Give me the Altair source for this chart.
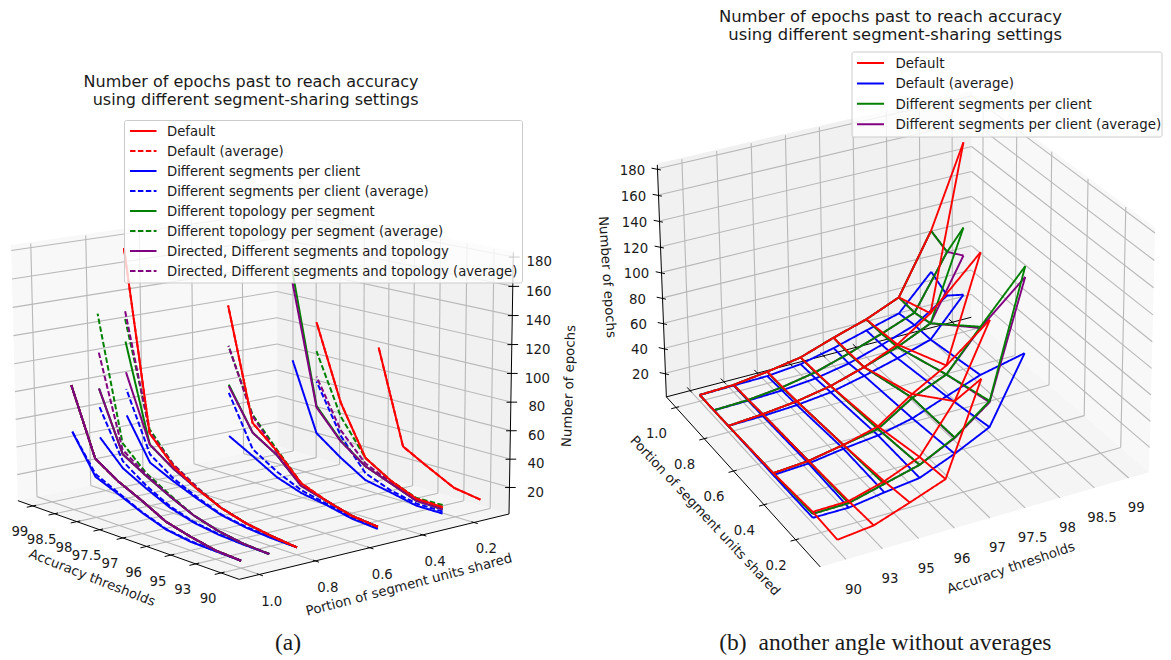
import numpy as np
import pandas as pd
import altair as alt

ACC = ["90", "93", "95", "96", "97", "97.5", "98", "98.5", "99"]
PORTION_TICKS = [1.0, 0.8, 0.6, 0.4, 0.2]
EPOCH_TICKS = [20, 40, 60, 80, 100, 120, 140, 160, 180]

default = {
    1.0: [6, 7, 10.5, 15, 24, 32, 43, 90],
    0.8: [6, 8, 11, 16, 24, 35, 53, 180],
    0.5: [7, 9, 14, 21, 39, 54, 134],
    0.25: [10, 10.5, 18, 29, 64, 118],
    0.1: [9, 12, 21.5, 31.5, 99],
}
default_avg = {
    1.0: [6, 7, 10.5, 15, 24, 32, 43, 90],
    0.8: [6, 8, 11, 16, 24, 35, 53, 180],
    0.5: [7, 9, 14, 21, 39, 54, 134],
    0.25: [10, 10.5, 18, 29, 64, 118],
    0.1: [9, 12, 21.5, 31.5, 99],
}
segments = {
    1.0: [6, 6.5, 7, 9.6, 15.6, 23, 30, 57],
    0.9: [6, 6.5, 7.5, 10, 15, 23, 32, 49],
    0.8: [6, 6.5, 8, 11, 17, 24, 32, 61],
    0.5: [5.5, 7, 11, 14, 20, 30, 39.5],
    0.25: [5.5, 5.5, 9.5, 13, 24, 37, 86],
}
segments_avg = {
    1.0: [6, 6.5, 7.5, 10, 16, 24, 32, 57],
    0.9: [6, 6.5, 8, 10.5, 16, 25, 37, 71],
    0.8: [6, 7, 8.5, 11.5, 18, 26, 38, 80],
    0.5: [6, 8, 12, 16, 24, 35, 71],
    0.25: [7, 7, 11, 18, 40, 75],
}
topology = {
    1.0: [6, 7, 10.5, 15, 24, 32, 43, 90],
    0.9: [6, 7, 10, 15, 23, 32, 42, 84],
    0.8: [6, 8, 11, 16, 24, 33, 45, 114],
    0.5: [7, 9, 14, 19, 36, 47, 77],
    0.25: [8.5, 9, 16, 23, 36.5, 57, 151],
}
topology_avg = {
    1.0: [6, 7, 10.5, 15, 24, 32, 43, 90],
    0.9: [6, 7, 10, 15, 24, 34, 50, 137],
    0.8: [6, 8, 11, 16, 25, 36, 56, 130],
    0.5: [7, 9, 14, 21, 40, 60, 105],
    0.25: [11.5, 11, 18, 29, 54, 97],
}
directed = {
    1.0: [6, 7, 10.5, 15, 24, 32, 43, 90],
    0.9: [6, 7, 10, 15, 23, 32, 42, 84],
    0.8: [6, 8, 11, 16, 24, 33, 45, 92],
    0.5: [7, 9, 14, 19, 36, 47, 76],
    0.25: [8.5, 9, 16, 23, 36, 56, 143],
}
directed_avg = {
    1.0: [6, 7, 10.5, 15, 24, 32, 43, 90],
    0.9: [6, 7, 10, 15, 23, 33, 45, 111],
    0.8: [6, 8, 11, 16, 25, 36, 54, 136],
    0.5: [7, 9, 14, 20, 38, 59, 105],
    0.25: [9, 10, 17, 25, 44, 78.5],
}

RED, BLUE, GREEN, PURPLE = "#ff0000", "#0000ff", "#008000", "#800080"
LEGEND_A = [
    ("Default", RED, "solid"), ("Default (average)", RED, "dash"),
    ("Different segments per client", BLUE, "solid"),
    ("Different segments per client (average)", BLUE, "dash"),
    ("Different topology per segment", GREEN, "solid"),
    ("Different topology per segment (average)", GREEN, "dash"),
    ("Directed, Different segments and topology", PURPLE, "solid"),
    ("Directed, Different segments and topology (average)", PURPLE, "dash"),
]
LEGEND_B = [
    ("Default", RED), ("Default (average)", BLUE),
    ("Different segments per client", GREEN),
    ("Different segments per client (average)", PURPLE),
]
TITLE_1 = "Number of epochs past to reach accuracy"
TITLE_2 = "using different segment-sharing settings"


def fit_camera(box):
    A = []
    for (i, p, z), (u, v) in box:
        X = [i / 9, p, z / 180, 1]
        u, v = u / 1000, v / 1000
        A.append(X + [0, 0, 0, 0] + [-u * c for c in X])
        A.append([0, 0, 0, 0] + X + [-v * c for c in X])
    return np.linalg.svd(np.array(A))[2][-1].reshape(3, 4)


def make_proj(box):
    P = fit_camera(box)

    def proj(i, p, z):
        q = P @ np.array([i / 9, p, z / 180, 1.0])
        return float(q[0] / q[2] * 1000), float(q[1] / q[2] * 1000)
    return proj


# box limits and where the box and its ticks fall on the page (camera calibration)
A_I, A_P = (-0.7, 8.7), (1.07, 0.06)
B_I, B_P = (-0.7, 8.6), (1.07, 0.05)
ZB = 1
cal_a = [
    ((8.7, 1.07, 1), (17, 503)), ((-0.7, 1.07, 1), (241, 579)),
    ((-0.7, 0.06, 1), (511, 513)), ((8.7, 0.06, 1), (280, 447)),
    ((-0.7, 0.06, 180), (515, 259)), ((8.7, 0.06, 180), (280, 214)),
    ((8.7, 1.07, 180), (14, 248)),
]
cal_a += 5 * [
    ((6, 1, 43), (94, 458)), ((6, 0.5, 134), (227, 306)), ((6, 0.25, 151), (290, 268)),
    ((4, 0.1, 99), (376, 347.7)), ((7, 1, 90), (70, 383)), ((7, 0.8, 180), (123, 250)),
    ((0, 1, 6), (243, 562)), ((0, 0.1, 9), (478, 500)),
]
for i, (u, v) in enumerate([(223, 572), (198, 563), (173, 555), (148, 546), (123, 539),
                            (100, 531), (77, 522), (52, 514), (31, 506)]):
    cal_a.append(((i, 1.07, 1), (u, v)))
for p, (u, v) in zip(PORTION_TICKS, [(259.5, 573), (313.5, 560), (367.5, 548), (420.5, 536), (470.5, 522)]):
    cal_a.append(((-0.7, p, 1), (u, v)))
for z, v in zip(EPOCH_TICKS, [486, 457, 429, 401, 373, 345, 316, 287, 259]):
    cal_a.append(((-0.7, 0.06, z), (511 + (513 - v) / 254 * 4, v)))
for z, v in zip(EPOCH_TICKS[:6], [422, 397, 371, 345, 318, 292]):
    cal_a.append(((8.7, 0.06, z), (280, v)))
for z, v in zip([120, 140, 160, 180], [337, 308, 280, 250]):
    cal_a.append(((8.7, 1.07, z), (14.5, v)))
proj_a = make_proj(cal_a)

cal_b = [
    ((-0.7, 1.07, 1), (667, 398)), ((-0.7, 0.05, 1), (824, 568)),
    ((8.6, 0.05, 1), (1147, 473)), ((8.6, 1.07, 1), (972, 319.5)),
    ((-0.7, 1.07, 184), (657, 163)), ((8.6, 1.07, 180), (972, 97)),
    ((8.6, 0.05, 180), (1158, 237)),
]
cal_b += 4 * [
    ((0, 1, 6), (697, 395)), ((0, 0.8, 6), (728, 427)), ((0, 0.5, 7), (773, 475)),
    ((0, 0.25, 8.5), (812, 515)), ((0, 0.1, 9), (835, 539)),
    ((7, 1, 90), (930, 229)), ((7, 0.8, 180), (964, 143)), ((6, 0.5, 134), (980, 252)),
    ((6, 0.25, 151), (1024, 262)), ((5, 0.25, 118), (989, 320)), ((4, 0.1, 99), (980, 378)),
]
for i, (u, v) in enumerate([(848, 561), (884, 550), (920, 540), (956, 529), (991, 517),
                            (1027, 508), (1061, 497), (1096, 487), (1129, 477)]):
    cal_b.append(((i, 0.05, 1), (u, v)))
for p, (u, v) in zip(PORTION_TICKS, [(680, 405), (706, 436.5), (736, 469.5), (767, 502.5), (799, 537.5)]):
    cal_b.append(((-0.7, p, 1), (u, v)))
for z, (u, v) in zip(EPOCH_TICKS, [(666, 373), (665, 348), (664, 323), (663, 298), (662, 273),
                                   (661, 247), (660, 221), (659, 195), (658, 169)]):
    cal_b.append(((-0.7, 1.07, z), (u, v)))
for z, v in zip(EPOCH_TICKS[:7], [295, 270, 246, 221, 197, 172, 147]):
    cal_b.append(((8.6, 1.07, z), (972, v)))
for z, (u, v) in zip(EPOCH_TICKS, [(1148.5, 445), (1149, 419), (1150.5, 393), (1151, 369), (1152, 343),
                                   (1153, 318), (1155, 290), (1156.5, 263), (1158, 237)]):
    cal_b.append(((8.6, 0.05, z), (u, v)))
proj_b = make_proj(cal_b)

X = alt.Scale(domain=[8, 1163], nice=False, zero=False)
Y = alt.Scale(domain=[658, 8], nice=False, zero=False)
W, H = 1155, 650
ex = alt.X("x:Q", scale=X, axis=None)
ey = alt.Y("y:Q", scale=Y, axis=None)


def pane(poly, color):
    xs = sorted(set(round(a, 3) for a, b in poly))
    n = len(poly)
    rows = []
    for x in xs:
        hits = []
        for k in range(n):
            (x0, y0), (x1, y1) = poly[k], poly[(k + 1) % n]
            x0, x1 = round(x0, 3), round(x1, 3)
            if min(x0, x1) <= x <= max(x0, x1):
                if x0 == x1:
                    hits += [y0, y1]
                else:
                    hits.append(y0 + (y1 - y0) * (x - x0) / (x1 - x0))
        rows.append({"x": x, "y": min(hits), "y2": max(hits)})
    return alt.Chart(pd.DataFrame(rows)).mark_area(fill=color, orient="vertical").encode(
        x=ex, y=ey, y2=alt.Y2("y2:Q"))


def seg_rows(rows, key, pts, **extra):
    for k, (x, y) in enumerate(pts):
        rows.append({"id": key, "k": k, "x": x, "y": y, **extra})


def frame(proj, I, Pp, zt, left_is_i_wall):
    """grid lines and axis lines of one 3-D box"""
    g, a = [], []
    i0, i1 = I
    p0, p1 = Pp  # p0 = front/left end
    pz = max(zt) + 3
    idx = list(range(9))
    zp = p0 if left_is_i_wall else p1
    for i in idx:
        seg_rows(g, f"fi{i}", [proj(i, p0, ZB), proj(i, p1, ZB)])
        seg_rows(g, f"wi{i}", [proj(i, zp, ZB), proj(i, zp, pz)])
    for p in PORTION_TICKS:
        seg_rows(g, f"fp{p}", [proj(i0, p, ZB), proj(i1, p, ZB)])
        seg_rows(g, f"wp{p}", [proj(i1, p, ZB), proj(i1, p, pz)])
    for z in zt:
        seg_rows(g, f"zi{z}", [proj(i0, zp, z), proj(i1, zp, z)])
        seg_rows(g, f"zp{z}", [proj(i1, p0, z), proj(i1, p1, z)])
    # axes
    seg_rows(a, "ai", [proj(i1, p0, ZB), proj(i0, p0, ZB)])
    seg_rows(a, "ap", [proj(i0, p0, ZB), proj(i0, p1, ZB)])
    seg_rows(a, "az", [proj(i0, zp, ZB), proj(i0, zp, pz)])
    for i in idx:
        seg_rows(a, f"ti{i}", [proj(i, p0 - 0.012, ZB), proj(i, p0 + 0.022, ZB)])
    for p in PORTION_TICKS:
        seg_rows(a, f"tp{p}", [proj(i0 + 0.09, p, ZB), proj(i0 - 0.14, p, ZB)])
    for z in zt:
        dp = 0.012 if left_is_i_wall else -0.012
        seg_rows(a, f"tz{z}", [proj(i0 + 0.05, zp - dp, z), proj(i0 - 0.12, zp + dp, z)])
    return g, a


def panel_curves_a():
    rows = []
    order = [0.1, 0.25, 0.5, 0.8, 0.9, 1.0]
    for p in order:
        if p == 1.0:
            seq = [(default, RED, "solid"), (default_avg, RED, "dash"), (segments, BLUE, "solid"),
                   (segments_avg, BLUE, "dash"), (topology, GREEN, "solid"), (topology_avg, GREEN, "dash"),
                   (directed, PURPLE, "solid"), (directed_avg, PURPLE, "dash")]
        else:
            seq = [(segments, BLUE, "solid"), (segments_avg, BLUE, "dash"), (topology_avg, GREEN, "dash"),
                   (directed_avg, PURPLE, "dash"), (topology, GREEN, "solid"), (directed, PURPLE, "solid"),
                   (default_avg, RED, "dash"), (default, RED, "solid")]
        for n, (s, c, d) in enumerate(seq):
            if p in s:
                pts = [proj_a(i, p, z) for i, z in enumerate(s[p])]
                seg_rows(rows, f"a{p}-{n}", pts, c=c, dash=d)
    return rows


def panel_curves_b():
    rows = []
    for n, (s, c) in enumerate([(segments, BLUE), (directed, PURPLE), (topology, GREEN), (default, RED)]):
        for p, vals in s.items():
            seg_rows(rows, f"bi{n}-{p}", [proj_b(i, p, z) for i, z in enumerate(vals)], c=c, dash="solid")
        for i in range(8):
            pts = [proj_b(i, p, vals[i]) for p, vals in s.items() if i < len(vals)]
            if len(pts) > 1:
                seg_rows(rows, f"bp{n}-{i}", pts, c=c, dash="solid")
    return rows


def lines(rows, color, width):
    return alt.Chart(pd.DataFrame(rows)).mark_line(color=color, strokeWidth=width, strokeCap="butt").encode(
        x=ex, y=ey, detail="id:N", order=alt.Order("k:Q"))


DASH = alt.StrokeDash("dash:N", scale=alt.Scale(domain=["solid", "dash"], range=[[1, 0], [5.5, 2.4]]), legend=None)


def data_lines(rows, width):
    return alt.Chart(pd.DataFrame(rows)).mark_line(strokeWidth=width, strokeJoin="miter").encode(
        x=ex, y=ey, detail="id:N", order=alt.Order("k:Q"),
        color=alt.Color("c:N", scale=None), strokeDash=DASH)


def texts(rows, font="DejaVu Sans", align="center"):
    return alt.Chart(pd.DataFrame(rows)).mark_text(font=font, align=align, baseline="middle", color="#1a1a1a").encode(
        x=ex, y=ey, text="t:N", size=alt.Size("s:Q", scale=None),
        angle=alt.Angle("a:Q", scale=None))


def T(x, y, t, s=13.3, a=0):
    return {"x": x, "y": y, "t": t, "s": s, "a": (a + 360) % 360}


layers = []
# ---------- panes
ap = proj_a
ztop = 184
layers += [
    pane([ap(8.7, 1.07, 1), ap(8.7, 0.06, 1), ap(8.7, 0.06, ztop), ap(8.7, 1.07, ztop)], "#f8f8f8"),
    pane([ap(8.7, 0.06, 1), ap(-0.7, 0.06, 1), ap(-0.7, 0.06, ztop), ap(8.7, 0.06, ztop)], "#f1f1f1"),
    pane([ap(8.7, 1.07, 1), ap(-0.7, 1.07, 1), ap(-0.7, 0.06, 1), ap(8.7, 0.06, 1)], "#f5f5f5"),
]
bp = proj_b
layers += [
    pane([bp(-0.7, 1.07, 1), bp(8.6, 1.07, 1), bp(8.6, 1.07, ztop), bp(-0.7, 1.07, ztop)], "#f1f1f1"),
    pane([bp(8.6, 1.07, 1), bp(8.6, 0.05, 1), bp(8.6, 0.05, ztop), bp(8.6, 1.07, ztop)], "#f8f8f8"),
    pane([bp(-0.7, 1.07, 1), bp(-0.7, 0.05, 1), bp(8.6, 0.05, 1), bp(8.6, 1.07, 1)], "#f5f5f5"),
]

# ---------- grid + axes
ga, aa = frame(proj_a, A_I, A_P, EPOCH_TICKS, False)
gb, ab = frame(proj_b, B_I, B_P, EPOCH_TICKS, True)
for r in gb + ab:
    r["id"] = "b" + r["id"]
layers += [lines(ga + gb, "#b8b8b8", 1.1), lines(aa + ab, "#000000", 1.0)]

# ---------- curves
layers += [data_lines(panel_curves_a(), 2.0), data_lines(panel_curves_b(), 1.9)]

# ---------- legends
boxes = pd.DataFrame([
    {"x": 124.5, "x2": 522.5, "y": 120.5, "y2": 283},
    {"x": 852, "x2": 1162, "y": 52, "y2": 137},
])
layers.append(alt.Chart(boxes).mark_rect(fill="#ffffff", fillOpacity=0.8, stroke="#cccccc", strokeWidth=1,
                                         cornerRadius=2).encode(x=ex, x2="x2:Q", y=ey, y2="y2:Q"))
leg = []
ltext = []
for n, (label, c, d) in enumerate(LEGEND_A):
    y = 131 + 20 * n
    seg_rows(leg, f"la{n}", [(130, y), (156.5, y)], c=c, dash=d)
    ltext.append(T(167, y + 0.7, label, 13.2))
for n, (label, c) in enumerate(LEGEND_B):
    y = 63 + 20.4 * n
    seg_rows(leg, f"lb{n}", [(857, y), (884, y)], c=c, dash="solid")
    ltext.append(T(895.5, y + 0.7, label, 13.4))
layers.append(data_lines(leg, 2.0))
layers.append(texts(ltext, align="left"))

# ---------- text
tx = []
for i, lab in enumerate(ACC):
    u, v = proj_a(i, 1.07, ZB)
    tx.append(T(u - 13, v + 26.5, lab))
    u, v = proj_b(i, 0.05, ZB)
    tx.append(T(u + 7.5, v + 30.5, lab))
for p in PORTION_TICKS:
    u, v = proj_a(-0.7, p, ZB)
    tx.append(T(u + 12.5, v + 27, f"{p:.1f}"))
    u, v = proj_b(-0.7, p, ZB)
    tx.append(T(u - 19.5, v + 26, f"{p:.1f}"))
for z in EPOCH_TICKS:
    u, v = proj_a(-0.7, 0.06, z)
    tx.append(T(u + 26, v + 5.5, str(z)))
    u, v = proj_b(-0.7, 1.07, z)
    tx.append(T(u - 25, v + 2, str(z)))
tx += [
    T(92, 578, "Accuracy thresholds", 13.3, 21.5),
    T(409, 585, "Portion of segment units shared", 13.3, -14.7),
    T(569, 386, "Number of epochs", 13.3, -88),
    T(1011, 568, "Accuracy thresholds", 13.3, -19),
    T(705, 516, "Portion of segment units shared", 13.3, 47),
    T(607, 277, "Number of epochs", 13.3, 86),
]
layers.append(texts(tx))
layers.append(texts([
    T(418.5, 82, TITLE_1, 16), T(418.5, 100, TITLE_2, 16),
    T(1062, 17, TITLE_1, 16.4), T(1062, 35, TITLE_2, 16.4),
], align="right"))
layers.append(texts([T(288, 643, "(a)", 23.5), T(733, 643, "(b)", 23.5),
                     T(905, 643, "another angle without averages", 23.5)],
                    font="Liberation Serif"))

chart = alt.layer(*layers).resolve_scale(color="independent", strokeDash="independent").properties(
    width=W, height=H, padding=0, autosize=alt.AutoSizeParams(type="none"),
    background="#ffffff",
).configure_view(stroke=None)
chart.save("out.html", embed_options={"renderer": "svg", "actions": False})
